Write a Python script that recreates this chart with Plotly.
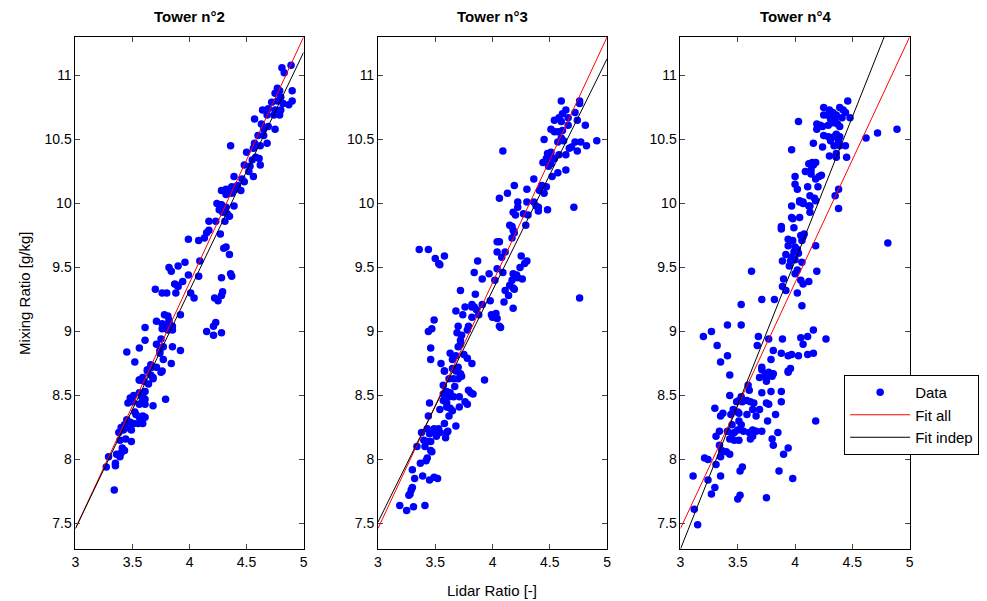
import plotly.graph_objects as go
from plotly.subplots import make_subplots

# data: (lidar ratio, mixing ratio)
tower2_pts = [
    (4.89, 11.08), (4.81, 11.06), (4.83, 11.02), (4.77, 10.90), (4.79, 10.88), (4.75, 10.86), (4.90, 10.88),
    (4.72, 10.79), (4.80, 10.83), (4.77, 10.80), (4.82, 10.78), (4.90, 10.80), (4.64, 10.73), (4.69, 10.74),
    (4.75, 10.73), (4.80, 10.73), (4.87, 10.77), (4.68, 10.69), (4.74, 10.69), (4.79, 10.69), (4.57, 10.66),
    (4.63, 10.62), (4.69, 10.60), (4.75, 10.58), (4.65, 10.58), (4.60, 10.53), (4.68, 10.47), (4.57, 10.47),
    (4.65, 10.53), (4.36, 10.45), (4.62, 10.45), (4.56, 10.43), (4.50, 10.40), (4.58, 10.36), (4.61, 10.35),
    (4.55, 10.34), (4.62, 10.30), (4.48, 10.30), (4.53, 10.29), (4.52, 10.25), (4.56, 10.21), (4.39, 10.21),
    (4.46, 10.19), (4.37, 10.13), (4.42, 10.14), (4.48, 10.17), (4.28, 10.10), (4.32, 10.11), (4.40, 10.11),
    (4.45, 10.10), (4.32, 10.07), (4.37, 10.08), (4.24, 10.00), (4.28, 9.99), (4.39, 9.98),
    (4.27, 9.99), (4.32, 9.97), (4.26, 9.95), (4.35, 9.90), (4.29, 9.93), (4.33, 9.92),
    (4.17, 9.86), (4.23, 9.86), (4.31, 9.86), (4.17, 9.79), (4.15, 9.77), (4.13, 9.73), (4.08, 9.71),
    (3.99, 9.72), (4.27, 9.76), (4.32, 9.66), (4.30, 9.65), (4.35, 9.60), (4.09, 9.55), (3.96, 9.54),
    (3.90, 9.51), (3.82, 9.50), (3.84, 9.47), (3.99, 9.44), (4.08, 9.43), (4.36, 9.45), (4.37, 9.43),
    (4.28, 9.42), (3.94, 9.39), (3.87, 9.37), (3.90, 9.35), (3.89, 9.36), (3.70, 9.33), (3.76, 9.30),
    (3.80, 9.30), (3.88, 9.30), (4.01, 9.30), (4.04, 9.26), (4.29, 9.31), (4.28, 9.28), (4.22, 9.26),
    (4.25, 9.24), (3.92, 9.13), (3.78, 9.13), (3.81, 9.12), (3.82, 9.09), (3.71, 9.08), (3.76, 9.06),
    (3.80, 9.05), (3.82, 9.07), (3.85, 9.04), (3.76, 9.02), (3.81, 9.01), (3.85, 9.01), (3.61, 9.03),
    (4.15, 9.00), (4.23, 9.07), (4.21, 9.04), (4.21, 8.97), (4.28, 8.99), (3.61, 8.93), (3.56, 8.87),
    (3.71, 8.90), (3.75, 8.94), (3.77, 8.88), (3.85, 8.88), (3.45, 8.84), (3.92, 8.85), (3.74, 8.85),
    (3.74, 8.83), (3.52, 8.76), (3.77, 8.78), (3.84, 8.75), (3.66, 8.74), (3.67, 8.72), (3.71, 8.72),
    (3.75, 8.68), (3.63, 8.70), (3.59, 8.64), (3.56, 8.62), (3.68, 8.64),
    (3.63, 8.69), (3.76, 8.69), (3.68, 8.63), (3.56, 8.62), (3.64, 8.59), (3.66, 8.66), (3.60, 8.61),
    (3.61, 8.53), (3.59, 8.51), (3.56, 8.52), (3.51, 8.50), (3.48, 8.48), (3.46, 8.44), (3.50, 8.45),
    (3.58, 8.49), (3.61, 8.47), (3.58, 8.44), (3.61, 8.43), (3.56, 8.43), (3.68, 8.42), (3.79, 8.47),
    (3.52, 8.37), (3.53, 8.35), (3.59, 8.34), (3.61, 8.33), (3.56, 8.33), (3.45, 8.31), (3.48, 8.29),
    (3.51, 8.28), (3.59, 8.28), (3.55, 8.28), (3.43, 8.27), (3.48, 8.24), (3.49, 8.23), (3.38, 8.21),
    (3.42, 8.23), (3.40, 8.25), (3.44, 8.16), (3.49, 8.14), (3.39, 8.15), (3.41, 8.09), (3.43, 8.07),
    (3.40, 8.05), (3.36, 8.04), (3.29, 8.02), (3.39, 8.02), (3.27, 7.94), (3.35, 7.95), (3.35, 7.97),
    (3.34, 7.76),
]

tower3_pts = [
    (4.60, 10.80), (4.76, 10.80), (4.76, 10.78), (4.64, 10.73), (4.61, 10.70), (4.58, 10.67), (4.66, 10.67),
    (4.54, 10.65), (4.60, 10.64), (4.72, 10.71), (4.74, 10.65), (4.66, 10.61), (4.81, 10.61), (4.51, 10.58),
    (4.54, 10.56), (4.57, 10.56), (4.61, 10.57), (4.45, 10.50), (4.60, 10.51), (4.57, 10.48), (4.62, 10.49),
    (4.72, 10.48), (4.77, 10.48), (4.69, 10.44), (4.67, 10.43), (4.74, 10.41), (4.82, 10.45), (4.91, 10.49),
    (4.09, 10.41), (4.48, 10.39), (4.51, 10.40), (4.50, 10.37), (4.58, 10.38), (4.54, 10.35), (4.47, 10.35),
    (4.44, 10.32), (4.51, 10.31), (4.49, 10.29), (4.50, 10.33), (4.64, 10.38), (4.64, 10.26), (4.57, 10.24),
    (4.52, 10.21), (4.36, 10.19), (4.43, 10.14), (4.47, 10.13), (4.45, 10.08), (4.41, 10.10), (4.19, 10.14),
    (4.13, 10.08), (4.06, 10.04), (4.30, 10.11), (4.22, 10.01), (4.30, 10.01), (4.36, 10.01), (4.71, 9.97),
    (4.40, 9.97), (4.48, 9.95),
    (4.22, 9.97), (4.38, 9.98), (4.18, 9.93), (4.20, 9.91), (4.27, 9.92), (4.31, 9.91), (4.40, 9.94),
    (4.15, 9.83), (4.17, 9.82), (4.18, 9.79), (4.19, 9.77), (4.29, 9.83), (4.17, 9.73), (4.04, 9.70),
    (4.06, 9.70), (3.36, 9.64), (3.44, 9.64), (3.50, 9.57), (3.58, 9.59), (3.54, 9.52), (3.53, 9.53),
    (4.04, 9.62), (4.11, 9.62), (4.08, 9.58), (4.25, 9.59), (4.30, 9.55), (4.28, 9.53), (4.24, 9.50),
    (3.87, 9.55), (4.04, 9.49), (4.18, 9.45), (4.21, 9.44), (4.09, 9.46), (4.26, 9.41), (4.17, 9.40),
    (4.22, 9.42), (3.84, 9.46), (3.91, 9.41), (3.97, 9.45), (4.02, 9.40), (4.15, 9.36), (4.18, 9.34),
    (4.19, 9.33), (3.72, 9.32), (3.85, 9.29), (4.11, 9.32), (4.14, 9.28), (4.76, 9.26), (3.98, 9.24),
    (3.82, 9.21), (3.82, 9.19), (3.84, 9.19), (3.86, 9.17), (3.76, 9.19), (3.68, 9.16), (3.91, 9.21),
    (4.10, 9.23), (4.18, 9.18), (3.74, 9.13), (3.82, 9.11), (3.88, 9.13), (3.99, 9.13), (4.03, 9.14),
    (4.04, 9.10), (4.00, 9.11), (3.49, 9.09), (3.44, 9.00), (3.47, 9.02), (3.70, 9.04), (3.69, 8.99),
    (3.73, 8.97), (3.79, 9.04), (3.78, 9.01), (4.06, 9.04), (4.07, 9.03), (3.46, 8.87), (3.72, 8.93),
    (3.70, 8.88), (3.72, 8.90), (3.63, 8.83), (3.68, 8.81), (3.75, 8.82), (3.46, 8.78), (3.55, 8.75),
    (3.65, 8.78), (3.78, 8.79), (3.82, 8.75), (3.58, 8.69), (3.65, 8.71), (3.70, 8.72), (3.72, 8.67),
    (3.93, 8.62), (3.70, 8.63), (3.62, 8.63),
    (3.58, 8.69), (3.68, 8.69), (3.72, 8.66), (3.73, 8.65), (3.66, 8.63), (3.57, 8.58), (3.67, 8.57),
    (3.60, 8.53), (3.63, 8.52), (3.57, 8.51), (3.62, 8.49), (3.66, 8.49), (3.71, 8.49), (3.79, 8.54),
    (3.81, 8.52), (3.83, 8.51), (3.45, 8.44), (3.57, 8.46), (3.60, 8.44), (3.76, 8.45), (3.78, 8.43),
    (3.60, 8.41), (3.63, 8.40), (3.71, 8.41), (3.65, 8.38), (3.54, 8.39), (3.62, 8.34), (3.44, 8.34),
    (3.68, 8.26), (3.58, 8.28), (3.53, 8.24), (3.49, 8.24), (3.43, 8.24), (3.50, 8.21), (3.54, 8.21),
    (3.60, 8.21), (3.61, 8.22), (3.45, 8.20), (3.51, 8.18), (3.59, 8.17), (3.38, 8.21), (3.40, 8.15),
    (3.43, 8.14), (3.46, 8.14), (3.41, 8.10), (3.34, 8.10), (3.46, 8.07), (3.47, 8.06), (3.43, 8.01),
    (3.42, 7.99), (3.37, 7.97), (3.30, 7.92), (3.32, 7.85), (3.39, 7.87), (3.45, 7.84), (3.49, 7.86),
    (3.52, 7.85), (3.30, 7.78), (3.29, 7.76), (3.28, 7.73), (3.27, 7.72), (3.19, 7.64), (3.25, 7.60),
    (3.31, 7.63), (3.41, 7.64),
]

tower4_pts = [
    (4.46, 10.80), (4.25, 10.75), (4.30, 10.73), (4.33, 10.71), (4.39, 10.75), (4.42, 10.73), (4.44, 10.71),
    (4.25, 10.69), (4.28, 10.69), (4.36, 10.69), (4.41, 10.67), (4.48, 10.67), (4.31, 10.66), (4.35, 10.66),
    (4.03, 10.64), (4.19, 10.62), (4.22, 10.61), (4.19, 10.58), (4.24, 10.60), (4.29, 10.61), (4.37, 10.62),
    (4.39, 10.60), (4.33, 10.63), (4.25, 10.53), (4.29, 10.52), (4.34, 10.52), (4.36, 10.54), (4.39, 10.52),
    (4.31, 10.49), (4.38, 10.49), (4.34, 10.45), (4.39, 10.45), (4.62, 10.51), (4.72, 10.55), (4.89, 10.58),
    (4.16, 10.47), (3.97, 10.42), (4.24, 10.44), (4.44, 10.45), (4.36, 10.39), (4.36, 10.36), (4.30, 10.37),
    (4.45, 10.36), (4.12, 10.31), (4.15, 10.32), (4.18, 10.32), (4.16, 10.30), (4.09, 10.25), (4.14, 10.26),
    (4.14, 10.23), (4.18, 10.19), (4.21, 10.21), (4.23, 10.22), (4.00, 10.21), (4.00, 10.15), (4.02, 10.11),
    (4.11, 10.13), (4.20, 10.13), (4.38, 10.11), (4.35, 10.06), (4.13, 10.06), (4.17, 10.04), (4.04, 10.02),
    (4.07, 10.01), (3.97, 9.98), (4.12, 9.98), (4.38, 9.96),
    (4.04, 10.01), (4.07, 10.00), (4.13, 9.98), (4.18, 10.02), (4.13, 9.93), (3.97, 9.89), (3.98, 9.88),
    (4.04, 9.89), (3.88, 9.82), (3.88, 9.80), (3.99, 9.81), (4.05, 9.75), (4.08, 9.76), (4.07, 9.74),
    (3.94, 9.72), (3.98, 9.71), (4.06, 9.71), (4.18, 9.67), (3.94, 9.67), (4.00, 9.66), (4.02, 9.64),
    (3.99, 9.62), (4.03, 9.61), (4.81, 9.69), (3.92, 9.60), (3.97, 9.58), (4.00, 9.56), (3.96, 9.55),
    (3.89, 9.55), (4.06, 9.54), (3.95, 9.51), (4.02, 9.48), (4.00, 9.45), (3.62, 9.47), (4.19, 9.47),
    (3.90, 9.41), (4.05, 9.40), (4.07, 9.37), (4.12, 9.39), (3.89, 9.35), (3.92, 9.32), (4.02, 9.30),
    (3.71, 9.25), (3.82, 9.25), (3.53, 9.21), (4.06, 9.20), (3.27, 9.00), (3.41, 9.05), (3.53, 9.05),
    (3.20, 8.96), (3.32, 8.89), (3.68, 8.96), (3.67, 8.89), (3.77, 8.94), (3.81, 8.85), (3.89, 8.94),
    (4.05, 8.95), (4.11, 8.96), (4.07, 8.90), (4.16, 9.01), (4.27, 8.94), (3.41, 8.81), (3.35, 8.76),
    (3.88, 8.83), (3.94, 8.81), (3.97, 8.82), (4.03, 8.81), (4.11, 8.82), (4.16, 8.83), (3.79, 8.78),
    (3.71, 8.72), (3.71, 8.70), (3.77, 8.68), (3.79, 8.67), (3.81, 8.67), (3.96, 8.71), (3.94, 8.68),
    (3.43, 8.66), (3.69, 8.64), (3.75, 8.63),
    (3.74, 8.67), (3.77, 8.66), (3.80, 8.65), (3.75, 8.61), (3.94, 8.69), (3.59, 8.58), (3.60, 8.54),
    (3.71, 8.52), (3.79, 8.53), (3.88, 8.53), (3.43, 8.50), (3.53, 8.49), (3.51, 8.46), (3.49, 8.45),
    (3.54, 8.45), (3.58, 8.46), (3.61, 8.45), (3.64, 8.44), (3.88, 8.45), (3.75, 8.44), (3.77, 8.43),
    (3.30, 8.40), (3.46, 8.39), (3.50, 8.37), (3.63, 8.39), (3.69, 8.39), (3.44, 8.35), (3.51, 8.36),
    (3.58, 8.35), (3.66, 8.34), (3.37, 8.36), (3.35, 8.34), (3.83, 8.35), (3.76, 8.30), (4.18, 8.30),
    (3.51, 8.30), (3.53, 8.27), (3.45, 8.27), (3.34, 8.22), (3.41, 8.22), (3.50, 8.23), (3.55, 8.22),
    (3.60, 8.21), (3.63, 8.23), (3.66, 8.22), (3.71, 8.22), (3.63, 8.18), (3.61, 8.16), (3.45, 8.20),
    (3.47, 8.21), (3.43, 8.16), (3.47, 8.15), (3.51, 8.15), (3.85, 8.21), (3.31, 8.18), (3.80, 8.16),
    (3.81, 8.11), (3.34, 8.11), (3.36, 8.07), (3.40, 8.06), (3.43, 8.04), (3.94, 8.09), (3.90, 8.04),
    (3.21, 8.01), (3.24, 8.00), (3.31, 7.96), (3.35, 8.02), (3.54, 7.94), (3.52, 7.91), (3.86, 7.91),
    (3.11, 7.87), (3.35, 7.87), (3.98, 7.85), (3.24, 7.84), (3.30, 7.78), (3.27, 7.73), (3.52, 7.72),
    (3.50, 7.69), (3.75, 7.70), (3.12, 7.61), (3.15, 7.49),
]

# fitted lines, values at lidar ratio 3 and 5
fit_x = [3, 5]
fit_all = [7.46, 11.30]
fit_indep = {
    "Tower n°2": [7.46, 11.18],
    "Tower n°3": [7.51, 11.13],
    "Tower n°4": [7.30, 11.80],
}
towers = {"Tower n°2": tower2_pts, "Tower n°3": tower3_pts, "Tower n°4": tower4_pts}

x_ticks = [3, 3.5, 4, 4.5, 5]
y_ticks = [7.5, 8, 8.5, 9, 9.5, 10, 10.5, 11]

# page body has an 8px margin, so the figure is drawn 8px smaller
OFF = 8
W, H = 987 - OFF, 601 - OFF
FONT = "Liberation Sans, Arial, sans-serif"


def px(p):
    return (p - OFF) / W


def py(p):
    return 1 - (p - OFF) / H


fig = make_subplots(rows=1, cols=3)

for i, (name, pts) in enumerate(towers.items()):
    col = i + 1
    last = col == 3
    xs = [p[0] for p in pts]
    ys = [p[1] for p in pts]
    fig.add_trace(go.Scatter(x=xs, y=ys, mode="markers", name="Data",
                             marker=dict(color="#0000ff", size=7.5, line=dict(width=0)),
                             showlegend=last), row=1, col=col)
    fig.add_trace(go.Scatter(x=fit_x, y=fit_all, mode="lines", name="Fit all",
                             line=dict(color="#ff0000", width=1), showlegend=last),
                  row=1, col=col)
    fig.add_trace(go.Scatter(x=fit_x, y=fit_indep[name], mode="lines", name="Fit indep",
                             line=dict(color="#000000", width=1), showlegend=last),
                  row=1, col=col)

# panel positions in page pixels
panels = [(72, 302), (377, 608), (682, 913)]
top, bottom = 37, 549
for i, (x0, x1) in enumerate(panels):
    sfx = "" if i == 0 else str(i + 1)
    fig.layout["xaxis" + sfx].update(
        domain=[px(x0), px(x1)], range=[3, 5], tickvals=x_ticks,
        ticktext=[str(t) for t in x_ticks],
        ticks="inside", ticklen=5, mirror="ticks", showline=True,
        linecolor="black", linewidth=1, showgrid=False, zeroline=False,
        tickfont=dict(size=14, color="black"))
    fig.layout["yaxis" + sfx].update(
        domain=[py(bottom), py(top)], range=[7.3, 11.3], tickvals=y_ticks,
        ticktext=[str(t) for t in y_ticks],
        ticks="inside", ticklen=5, mirror="ticks", showline=True,
        linecolor="black", linewidth=1, showgrid=False, zeroline=False,
        tickfont=dict(size=14, color="black"))
    fig.add_annotation(text="<b>" + list(towers)[i] + "</b>", x=px((x0 + x1) / 2),
                       y=py(17), xref="paper", yref="paper", showarrow=False,
                       xanchor="center", yanchor="middle",
                       font=dict(size=15, color="black"))

fig.add_annotation(text="Mixing Ratio [g/kg]", x=px(20), y=py(293), xref="paper",
                   yref="paper", showarrow=False, textangle=-90,
                   xanchor="center", yanchor="middle",
                   font=dict(size=15, color="black"))
fig.add_annotation(text="Lidar Ratio [-]", x=px(492), y=py(590), xref="paper",
                   yref="paper", showarrow=False, xanchor="center", yanchor="middle",
                   font=dict(size=15, color="black"))

fig.update_layout(
    width=W, height=H, margin=dict(l=0, r=0, t=0, b=0),
    plot_bgcolor="white", paper_bgcolor="white",
    font=dict(family=FONT, color="black"),
    legend=dict(x=px(847), y=py(375), xanchor="left", yanchor="top",
                bgcolor="white", bordercolor="black", borderwidth=1,
                itemwidth=60, entrywidth=95, tracegroupgap=0,
                font=dict(size=15, color="black")),
)

fig.write_html("out.html")
